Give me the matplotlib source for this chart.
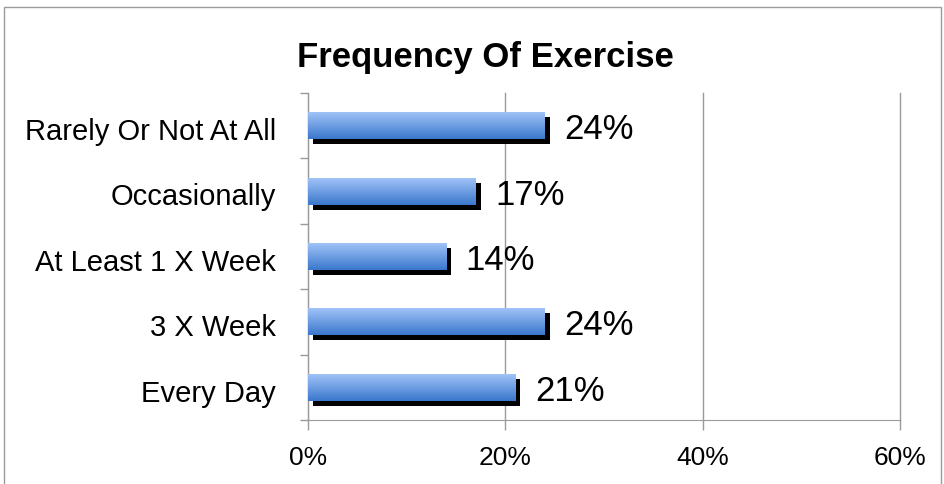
import matplotlib.pyplot as plt
import matplotlib.patheffects as pe
from matplotlib.colors import LinearSegmentedColormap
from matplotlib.patches import Rectangle
from matplotlib.ticker import FixedLocator, PercentFormatter
import numpy as np

categories = ["Every Day", "3 X Week", "At Least 1 X Week", "Occasionally", "Rarely Or Not At All"]
values = [21, 24, 14, 17, 24]
xticks = [0, 20, 40, 60]

NARROW = ["Liberation Sans Narrow", "Liberation Sans", "DejaVu Sans"]

fig = plt.figure(figsize=(9.44, 4.84), dpi=100)
ax = fig.add_axes([308 / 944, 1 - 420 / 484, 592 / 944, 327 / 484])

# outer frame of the slide
fig.patches.append(Rectangle((4 / 944, -0.1), 937 / 944, 1.1 - 7 / 484, transform=fig.transFigure,
                             fill=False, edgecolor="#9a9a9a", linewidth=1.0))

y = np.arange(len(categories))
bars = ax.barh(y, values, height=0.41, color="#6b9be0", zorder=3,
               path_effects=[pe.SimplePatchShadow(offset=(3.6, -3.6), shadow_rgbFace="black", alpha=1.0),
                             pe.Normal()])

cmap = LinearSegmentedColormap.from_list("bluegrad", ["#3a78cc", "#a0c2f7"])
grad = np.linspace(0, 1, 64).reshape(-1, 1)
for b in bars:
    x0, y0 = b.get_x(), b.get_y()
    im = ax.imshow(grad, cmap=cmap, origin="lower", aspect="auto",
                   extent=(x0, x0 + b.get_width(), y0, y0 + b.get_height()), zorder=4)
    im.set_clip_path(b)

for v, yi in zip(values, y):
    ax.text(v + 2.0, yi - 0.06, f"{v}%", va="center", ha="left", fontsize=25, family=NARROW, zorder=5)

ax.set_xlim(0, 60)
ax.set_ylim(-0.5, len(categories) - 0.5)
ax.set_xticks(xticks)
ax.xaxis.set_major_formatter(PercentFormatter(decimals=0))
ax.set_yticks(y - 0.05)
ax.set_yticklabels(categories)
ax.yaxis.set_minor_locator(FixedLocator(np.arange(-0.5, len(categories), 1.0)))
ax.tick_params(axis="y", which="major", length=0, pad=23, labelsize=21)
ax.tick_params(axis="y", which="minor", length=6, color="#9a9a9a", width=1)
ax.tick_params(axis="x", length=7, color="#9a9a9a", width=1, pad=12, labelsize=19)
for lab in ax.get_yticklabels() + ax.get_xticklabels():
    lab.set_family(NARROW)

ax.grid(axis="x", color="#9a9a9a", linewidth=1, zorder=0)
for gl in ax.get_xgridlines():
    gl.set_clip_on(False)
ax.set_axisbelow(True)
for s in ["top", "right"]:
    ax.spines[s].set_visible(False)
for s in ["left", "bottom"]:
    ax.spines[s].set_color("#9a9a9a")
    ax.spines[s].set_zorder(2)

fig.text(485 / 944, 1 - 57 / 484, "Frequency Of Exercise", ha="center", va="center",
         fontsize=25, fontweight="bold", family=["Liberation Sans", "DejaVu Sans"])

fig.savefig("out.png", dpi=100, facecolor="white")
